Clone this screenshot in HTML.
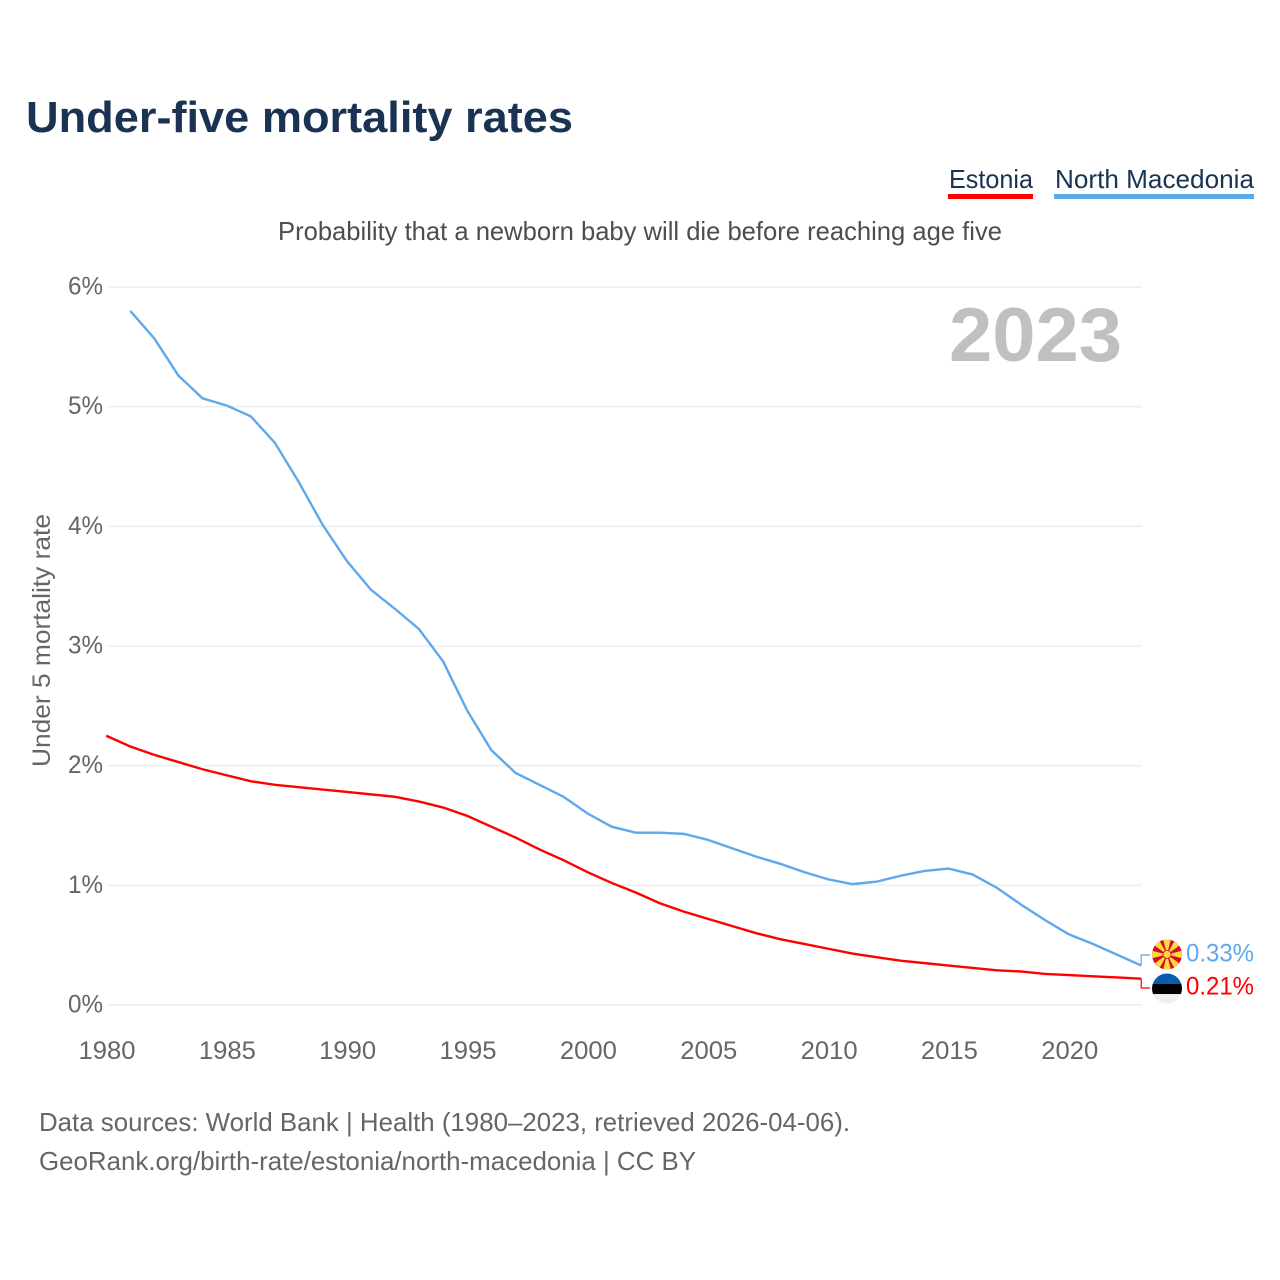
<!DOCTYPE html>
<html lang="en">
<head>
<meta charset="utf-8">
<title>Under-five mortality rates</title>
<style>
html,body{margin:0;padding:0;background:#fff;width:1280px;height:1280px;overflow:hidden}
svg{display:block}
text{font-family:"Liberation Sans",sans-serif}
</style>
</head>
<body>
<svg id="chart" xmlns="http://www.w3.org/2000/svg" width="1280" height="1280" viewBox="0 0 1280 1280">
  <defs>
    <clipPath id="mk-clip"><circle cx="1167" cy="954.5" r="15"/></clipPath>
    <clipPath id="ee-clip"><circle cx="1167" cy="988.5" r="15"/></clipPath>
  </defs>
  <text x="26" y="132" font-size="44" font-weight="700" fill="#1a3353" textLength="547" lengthAdjust="spacingAndGlyphs">Under-five mortality rates</text>
  <g>
    <g>
      <text x="949" y="188" font-size="26" fill="#1a3353" textLength="84" lengthAdjust="spacingAndGlyphs">Estonia</text>
      <rect x="948" y="194" width="85" height="5" fill="#ff0000"/>
    </g>
    <g>
      <text x="1055" y="188" font-size="26" fill="#1a3353" textLength="199" lengthAdjust="spacingAndGlyphs">North Macedonia</text>
      <rect x="1054" y="194" width="200" height="5" fill="#5ea8ee"/>
    </g>
  </g>
  <text x="278" y="240" font-size="26" fill="#4d4d4d" textLength="724" lengthAdjust="spacingAndGlyphs">Probability that a newborn baby will die before reaching age five</text>
  <text x="1122" y="361" font-size="76" font-weight="700" fill="#c0c0c0" text-anchor="end" textLength="173" lengthAdjust="spacingAndGlyphs">2023</text>
  <text transform="translate(50,767) rotate(-90)" font-size="25" fill="#666666" textLength="253" lengthAdjust="spacingAndGlyphs">Under 5 mortality rate</text>
  <g id="grid"></g>
  <g id="y-ticks"></g>
  <g id="x-ticks"></g>
  <g id="series"></g>

  <g clip-path="url(#mk-clip)">
    <rect x="1152" y="939.5" width="30" height="30" fill="#d20a2e"/>
    <g fill="#ffd83a">
      <polygon points="1167,954.5 1163,939 1171,939"/>
      <polygon points="1167,954.5 1163,970 1171,970"/>
      <polygon points="1167,954.5 1151,950.5 1151,958.5"/>
      <polygon points="1167,954.5 1183,950.5 1183,958.5"/>
      <polygon points="1167,954.5 1151,943 1158,938"/>
      <polygon points="1167,954.5 1183,943 1176,938"/>
      <polygon points="1167,954.5 1151,966 1158,971"/>
      <polygon points="1167,954.5 1183,966 1176,971"/>
      <circle cx="1167" cy="954.5" r="4" stroke="#d20a2e" stroke-width="0.8"/>
    </g>
  </g>
  <g clip-path="url(#ee-clip)">
    <rect x="1152" y="973.5" width="30" height="10.5" fill="#0a5cb0"/>
    <rect x="1152" y="984" width="30" height="10" fill="#000000"/>
    <rect x="1152" y="994" width="30" height="10" fill="#efefef"/>
  </g>
  <text x="1186" y="961.5" font-size="25" fill="#5ea8ee" textLength="68" lengthAdjust="spacingAndGlyphs">0.33%</text>
  <text x="1186" y="994.5" font-size="25" fill="#ff0000" textLength="68" lengthAdjust="spacingAndGlyphs">0.21%</text>

  <text x="39" y="1131" font-size="26" fill="#666666" textLength="811" lengthAdjust="spacingAndGlyphs">Data sources: World Bank | Health (1980–2023, retrieved 2026-04-06).</text>
  <text x="39" y="1170" font-size="26" fill="#666666" textLength="657" lengthAdjust="spacingAndGlyphs">GeoRank.org/birth-rate/estonia/north-macedonia | CC BY</text>
</svg>
<script>
const years = [1980,1981,1982,1983,1984,1985,1986,1987,1988,1989,1990,1991,1992,1993,1994,1995,1996,1997,1998,1999,2000,2001,2002,2003,2004,2005,2006,2007,2008,2009,2010,2011,2012,2013,2014,2015,2016,2017,2018,2019,2020,2021,2022,2023];
const estoniaValues = [2.25,2.16,2.09,2.03,1.97,1.92,1.87,1.84,1.82,1.80,1.78,1.76,1.74,1.70,1.65,1.58,1.49,1.40,1.30,1.21,1.11,1.02,0.94,0.85,0.78,0.72,0.66,0.60,0.55,0.51,0.47,0.43,0.40,0.37,0.35,0.33,0.31,0.29,0.28,0.26,0.25,0.24,0.23,0.22];
const macedoniaValues = [null,5.80,5.57,5.26,5.07,5.01,4.92,4.70,4.37,4.01,3.71,3.47,3.31,3.14,2.87,2.46,2.13,1.94,1.84,1.74,1.60,1.49,1.44,1.44,1.43,1.38,1.31,1.24,1.18,1.11,1.05,1.01,1.03,1.08,1.12,1.14,1.09,0.98,0.84,0.71,0.59,0.51,0.42,0.33];
const yTickValues = [0,1,2,3,4,5,6];
const xTickValues = [1980,1985,1990,1995,2000,2005,2010,2015,2020];

const NS = 'http://www.w3.org/2000/svg';
function xScale(year){ return 106.2 + (year - 1980) * 24.07; }
function yScale(v){ return 1005 - v * 119.67; }

const grid = document.getElementById('grid');
const yTicks = document.getElementById('y-ticks');
const xTicks = document.getElementById('x-ticks');
const seriesGroup = document.getElementById('series');

yTickValues.forEach(function(v){
  const line = document.createElementNS(NS, 'line');
  line.setAttribute('x1', 107);
  line.setAttribute('x2', 1142);
  line.setAttribute('y1', yScale(v));
  line.setAttribute('y2', yScale(v));
  line.setAttribute('stroke', '#eeeeee');
  line.setAttribute('stroke-width', 1.5);
  
  
  grid.appendChild(line);

  const t = document.createElementNS(NS, 'text');
  t.setAttribute('x', 103);
  t.setAttribute('y', yScale(v) + 7.5);
  t.setAttribute('text-anchor', 'end');
  t.setAttribute('font-size', 25);
  t.setAttribute('fill', '#666666');
  t.setAttribute('textLength', 35);
  t.setAttribute('lengthAdjust', 'spacingAndGlyphs');
  
  
  t.textContent = v + '%';
  yTicks.appendChild(t);
});

xTickValues.forEach(function(y){
  const t = document.createElementNS(NS, 'text');
  t.setAttribute('x', xScale(y) + 0.8);
  t.setAttribute('y', 1059);
  t.setAttribute('text-anchor', 'middle');
  t.setAttribute('font-size', 25);
  t.setAttribute('fill', '#666666');
  t.setAttribute('textLength', 57);
  t.setAttribute('lengthAdjust', 'spacingAndGlyphs');
  
  
  t.textContent = y;
  xTicks.appendChild(t);
});

function buildPoints(values){
  const pts = [];
  values.forEach(function(v, i){
    if (v !== null) pts.push(xScale(years[i]).toFixed(2) + ',' + yScale(v).toFixed(2));
  });
  return pts;
}

const macedoniaPts = buildPoints(macedoniaValues);
const macedoniaLine = document.createElementNS(NS, 'polyline');
macedoniaLine.setAttribute('points', macedoniaPts.join(' '));
macedoniaLine.setAttribute('fill', 'none');
macedoniaLine.setAttribute('stroke', '#5ea8ee');
macedoniaLine.setAttribute('stroke-width', 2.4);


seriesGroup.appendChild(macedoniaLine);

const estoniaPts = buildPoints(estoniaValues);
const estoniaLine = document.createElementNS(NS, 'polyline');
estoniaLine.setAttribute('points', estoniaPts.join(' '));
estoniaLine.setAttribute('fill', 'none');
estoniaLine.setAttribute('stroke', '#ff0000');
estoniaLine.setAttribute('stroke-width', 2.4);


seriesGroup.appendChild(estoniaLine);

const lastX = xScale(years[years.length - 1]);
const macedoniaLeader = document.createElementNS(NS, 'polyline');
macedoniaLeader.setAttribute('points', lastX + ',' + yScale(macedoniaValues[macedoniaValues.length - 1]) + ' ' + lastX + ',955 1150,955');
macedoniaLeader.setAttribute('fill', 'none');
macedoniaLeader.setAttribute('stroke', '#5ea8ee');
macedoniaLeader.setAttribute('stroke-width', 1.2);


seriesGroup.appendChild(macedoniaLeader);

const estoniaLeader = document.createElementNS(NS, 'polyline');
estoniaLeader.setAttribute('points', lastX + ',' + yScale(estoniaValues[estoniaValues.length - 1]) + ' ' + lastX + ',988 1150,988');
estoniaLeader.setAttribute('fill', 'none');
estoniaLeader.setAttribute('stroke', '#ff0000');
estoniaLeader.setAttribute('stroke-width', 1.2);


seriesGroup.appendChild(estoniaLeader);
</script>
</body>
</html>
